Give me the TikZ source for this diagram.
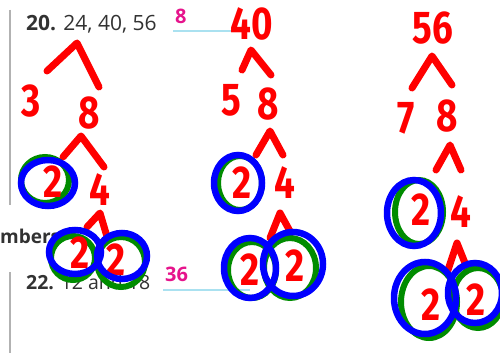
\documentclass[tikz,border=0pt]{standalone}
\usepackage{fontspec}
\setmainfont{Open Sans}
\newfontfamily\hand{Fira Sans}
\definecolor{pen}{RGB}{255,0,0}
\definecolor{bl}{RGB}{0,0,255}
\definecolor{gr}{RGB}{0,140,0}
\definecolor{mag}{RGB}{230,20,140}
\definecolor{cy}{RGB}{170,225,240}
\definecolor{ink}{RGB}{50,50,50}
\newcommand{\hw}[1]{\scalebox{0.8}[1]{#1}}
\tikzset{
  dig/.style={text=pen, font=\hand\bfseries\fontsize{46}{46}\selectfont, inner sep=0pt},
  caret/.style={draw=pen, line width=7pt, line cap=round, line join=round},
  bring/.style={draw=bl, line width=6.5pt},
  gring/.style={draw=gr, line width=6pt},
  printed/.style={text=ink, font=\fontsize{21}{22}\selectfont, inner sep=0pt, anchor=base west},
  ans/.style={text=mag, font=\bfseries\fontsize{20}{20}\selectfont, inner sep=0pt, anchor=base west},
  rule/.style={draw=gray!60, line width=1.2pt}
}
\begin{document}
\begin{tikzpicture}[x=1pt,y=-1pt]
\useasboundingbox (0,0) rectangle (500,353);
\fill[white] (0,0) rectangle (500,353);
% page background
\draw[rule] (10,10) -- (10,205);
\draw[rule] (10,272) -- (10,353);
\node[printed] (p20) at (26,31) {\textbf{20.} 24, 40, 56};
\node[ans] (a8) at (175,24) {8};
\draw[cy, line width=1.5pt] (173,31) -- (240,31);
\node[printed, font=\bfseries\fontsize{19}{19}\selectfont] (mb) at (0,243) {mbers};
\node[printed, font=\fontsize{19.5}{20}\selectfont] (p22) at (26,289) {\textbf{22.} 12 and 18};
\node[ans] (a36) at (165,281) {36};
\draw[cy, line width=1.5pt] (163,290) -- (250,290);

% ---------- tree 1 ----------
\draw[caret] (47,71) -- (77,43) -- (99,87);
\node[dig] (t3) at (31,101) {\hw{3}};
\node[dig] (t8) at (89,113) {\hw{8}};
\draw[caret] (63,157) -- (81,136) -- (104,167);
\draw[gring] (45,180) ellipse (24 and 23);
\node[dig] (t2a) at (53,182) {\hw{2}};
\draw[bring] (48,183) ellipse (27 and 23);
\node[dig] (t4) at (100,190) {\hw{4}};
\draw[caret] (87,227) -- (100,213) -- (108,240);
\draw[gring] (73,258) ellipse (22 and 22);
\draw[gring] (121,262) ellipse (24 and 25);
\node[dig] (t2b) at (80,253) {\hw{2}};
\node[dig] (t2c) at (116,260) {\hw{2}};
\draw[bring] (75,252) ellipse (26 and 22);
\draw[bring] (122,256) ellipse (25 and 23);

% ---------- tree 2 ----------
\node[dig] (u40) at (252,24) {\hw{40}};
\draw[caret] (242,70) -- (251,50) -- (271,75);
\node[dig] (u5) at (231,100) {\hw{5}};
\node[dig] (u8) at (268,104) {\hw{8}};
\draw[caret] (256,155) -- (270,131) -- (283,155);
\draw[gring] (240,183) ellipse (22 and 27);
\node[dig] (u2a) at (242,183) {\hw{2}};
\draw[bring] (238,183) ellipse (24 and 28);
\node[dig] (u4) at (285,183) {\hw{4}};
\draw[caret] (270,238) -- (280,213) -- (291,233);
\draw[gring] (252,270) ellipse (24 and 28);
\draw[gring] (290,268) ellipse (26 and 30);
\node[dig] (u2b) at (250,270) {\hw{2}};
\node[dig] (u2c) at (295,266) {\hw{2}};
\draw[bring] (250,268) ellipse (26 and 30);
\draw[bring] (293,264) ellipse (30 and 32);

% ---------- tree 3 ----------
\node[dig] (w56) at (433,28) {\hw{56}};
\draw[caret] (412,88) -- (432,56) -- (452,85);
\node[dig] (w7) at (406,118) {\hw{7}};
\node[dig] (w8) at (447,116) {\hw{8}};
\draw[caret] (436,170) -- (450,145) -- (461,170);
\draw[gring] (419,212) ellipse (24 and 32);
\node[dig] (w2a) at (421,210) {\hw{2}};
\draw[bring] (414,213) ellipse (27 and 33);
\node[dig] (w4) at (461,212) {\hw{4}};
\draw[caret] (447,273) -- (457,243) -- (467,268);
\draw[gring] (429,302) ellipse (28 and 36);
\draw[gring] (478,298) ellipse (25 and 30);
\node[dig] (w2b) at (431,305) {\hw{2}};
\node[dig] (w2c) at (476,300) {\hw{2}};
\draw[bring] (425,298) ellipse (31 and 36);
\draw[bring] (475,293) ellipse (27 and 30);
\end{tikzpicture}
\end{document}
